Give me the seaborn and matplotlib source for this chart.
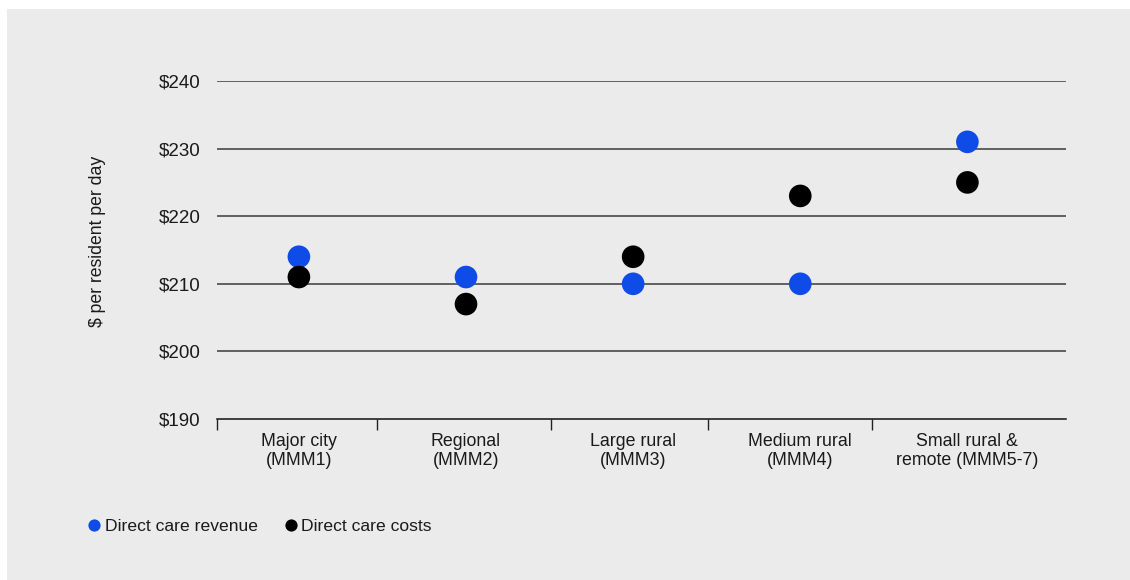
import matplotlib
matplotlib.use("Agg")
import matplotlib.pyplot as plt
from matplotlib.patches import Rectangle
from matplotlib.lines import Line2D
import seaborn as sns
import pandas as pd

# Remoteness categories (Modified Monash Model)
categories = [
    "Major city\n(MMM1)",
    "Regional\n(MMM2)",
    "Large rural\n(MMM3)",
    "Medium rural\n(MMM4)",
    "Small rural &\nremote (MMM5-7)",
]
revenue = [214, 211, 210, 210, 231]   # direct care revenue, $ per resident per day
costs = [211, 207, 214, 223, 225]     # direct care costs, $ per resident per day
series_names = ["Direct care revenue", "Direct care costs"]
y_ticks = [190, 200, 210, 220, 230, 240]
y_tick_labels = [f"${v}" for v in y_ticks]

BLUE = "#0f4be6"
BLACK = "#000000"
PANEL = "#ebebeb"
TEXT = "#1a1a1a"

df = pd.DataFrame({
    "region": categories * 2,
    "value": revenue + costs,
    "series": [series_names[0]] * len(categories) + [series_names[1]] * len(categories),
})

sns.set_theme(style="white")
plt.rcParams["font.family"] = ["Liberation Sans", "DejaVu Sans"]
plt.rcParams["text.color"] = TEXT
plt.rcParams["xtick.color"] = TEXT
plt.rcParams["ytick.color"] = TEXT
plt.rcParams["xtick.labelcolor"] = TEXT
plt.rcParams["ytick.labelcolor"] = TEXT

fig = plt.figure(figsize=(11.3, 5.8), dpi=100)
fig.patch.set_facecolor("white")
fig.add_artist(Rectangle((7 / 1130, 0), 1 - 7 / 1130, 1 - 9 / 580,
                         transform=fig.transFigure, facecolor=PANEL,
                         edgecolor="none", zorder=0))

ax = fig.add_axes([217 / 1130, 1 - 419 / 580, (1066 - 217) / 1130, (419 - 81) / 580])
ax.patch.set_alpha(0)

sns.stripplot(data=df, x="region", y="value", hue="series", order=categories,
              hue_order=series_names, palette=[BLUE, BLACK], jitter=False,
              dodge=False, size=16.3, linewidth=0, ax=ax, zorder=3, legend=False)

ax.set_ylim(190, 240)
ax.set_xlim(-0.49, 4.59)
ax.set_yticks(y_ticks)
ax.set_yticklabels(y_tick_labels, fontsize=13.5)
ax.tick_params(axis="y", length=0, pad=12)

# horizontal reference lines
for v in y_ticks[1:]:
    ax.axhline(v, color="#3a3a3a", lw=1.1, zorder=1)

# category labels centred under each column, ticks between columns
ax.set_xticks(range(len(categories)))
ax.set_xticklabels(categories, fontsize=12.8, linespacing=1.15)
ax.tick_params(axis="x", which="major", length=0, pad=10)
ax.set_xticks([-0.49, 0.47, 1.51, 2.45, 3.43], minor=True)
ax.tick_params(axis="x", which="minor", bottom=True, length=8, width=1,
               color="#222222", direction="out")

for s in ["top", "right", "left"]:
    ax.spines[s].set_visible(False)
ax.spines["bottom"].set_color("#111111")
ax.spines["bottom"].set_linewidth(1.1)
ax.set_xlabel("")
ax.set_ylabel("")

fig.text(97 / 1130, 1 - 241 / 580, "$ per resident per day", rotation=90,
         ha="center", va="center", fontsize=12.7)

handles = [
    Line2D([], [], marker="o", ls="none", color=BLUE, markersize=8.8, markeredgewidth=0),
    Line2D([], [], marker="o", ls="none", color=BLACK, markersize=8.8, markeredgewidth=0),
]
fig.legend(handles, series_names, loc="center left",
           bbox_to_anchor=(88 / 1130, 1 - 526 / 580), ncol=2, frameon=False,
           fontsize=12.6, handlelength=0.7, handletextpad=0.25,
           columnspacing=1.55, borderpad=0, borderaxespad=0)

fig.savefig("out.png", dpi=100, facecolor=fig.get_facecolor())
